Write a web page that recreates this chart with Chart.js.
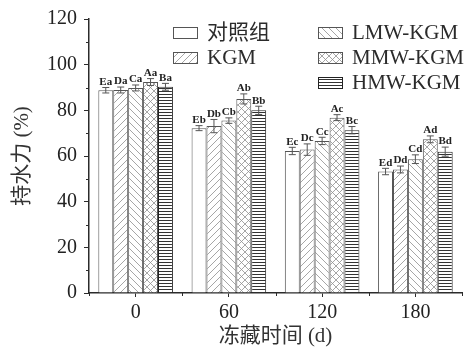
<!DOCTYPE html>
<html>
<head>
<meta charset="utf-8">
<script src="https://cdn.jsdelivr.net/npm/chart.js@4"></script>
<style>
  html, body { margin: 0; padding: 0; background: #fff; }
  #wrap { width: 470px; height: 349px; }
</style>
</head>
<body>
<div id="wrap"><canvas id="bar_chart" width="470" height="349"></canvas></div>
<script>
// storage time (d)
const categories = ["0", "60", "120", "180"];
const seriesNames = ["对照组", "KGM", "LMW-KGM", "MMW-KGM", "HMW-KGM"];

// water holding capacity (%)
const controlValues = [88.8, 72.2, 62.2, 53.2];
const kgmValues = [88.9, 73.1, 62.8, 54.1];
const lmwValues = [89.8, 75.5, 66.6, 58.6];
const mmwValues = [92.4, 85.0, 76.8, 67.3];
const hmwValues = [90.3, 80.0, 71.3, 61.9];

// error bars (+/-)
const controlErrors = [1.2, 1.1, 1.6, 1.4];
const kgmErrors = [1.3, 2.9, 2.5, 1.5];
const lmwErrors = [1.3, 1.2, 1.6, 1.9];
const mmwErrors = [1.5, 2.2, 1.3, 1.5];
const hmwErrors = [1.5, 1.8, 1.6, 2.0];

// significance letters
const controlLetters = ["Ea", "Eb", "Ec", "Ed"];
const kgmLetters = ["Da", "Db", "Dc", "Dd"];
const lmwLetters = ["Ca", "Cb", "Cc", "Cd"];
const mmwLetters = ["Aa", "Ab", "Ac", "Ad"];
const hmwLetters = ["Ba", "Bb", "Bc", "Bd"];

const yTicks = [0, 20, 40, 60, 80, 100, 120];

const serif = "'Liberation Serif', 'Noto Sans CJK SC', serif";
const axisColor = "#2b2b2b";

// hatch fills
function makePattern(kind) {
  const c = document.createElement("canvas");
  const s = kind === "h" ? 3 : 7;
  c.width = s;
  c.height = s;
  const g = c.getContext("2d");
  g.fillStyle = "#fff";
  g.fillRect(0, 0, s, s);
  g.lineWidth = 0.8;
  g.strokeStyle = "#8f8f8f";
  const fwd = () => {
    g.beginPath();
    g.moveTo(0, s); g.lineTo(s, 0);
    g.moveTo(-1, 1); g.lineTo(1, -1);
    g.moveTo(s - 1, s + 1); g.lineTo(s + 1, s - 1);
    g.stroke();
  };
  const back = () => {
    g.beginPath();
    g.moveTo(0, 0); g.lineTo(s, s);
    g.moveTo(-1, s - 1); g.lineTo(1, s + 1);
    g.moveTo(s - 1, -1); g.lineTo(s + 1, 1);
    g.stroke();
  };
  if (kind === "fwd") fwd();
  if (kind === "back") back();
  if (kind === "cross") { fwd(); back(); }
  if (kind === "h") {
    g.strokeStyle = "#333";
    g.lineWidth = 1;
    g.beginPath();
    g.moveTo(0, 1.5); g.lineTo(s, 1.5);
    g.stroke();
  }
  return g.createPattern(c, "repeat");
}

const fills = ["#ffffff", makePattern("fwd"), makePattern("back"), makePattern("cross"), makePattern("h")];
const values = [controlValues, kgmValues, lmwValues, mmwValues, hmwValues];
const errors = [controlErrors, kgmErrors, lmwErrors, mmwErrors, hmwErrors];
const letters = [controlLetters, kgmLetters, lmwLetters, mmwLetters, hmwLetters];

const datasets = seriesNames.map((name, i) => ({
  label: name,
  data: values[i],
  errors: errors[i],
  letters: letters[i],
  backgroundColor: fills[i],
  borderColor: i === 4 ? "#222" : "#555",
  borderWidth: 1,
  categoryPercentage: 0.8,
  barPercentage: 1.0,
}));

// error bars + letters on top of bars
const errorBars = {
  id: "errorBars",
  afterDatasetsDraw(chart) {
    const ctx = chart.ctx;
    const y = chart.scales.y;
    ctx.save();
    chart.data.datasets.forEach((ds, di) => {
      const meta = chart.getDatasetMeta(di);
      meta.data.forEach((bar, j) => {
        const v = ds.data[j];
        const e = ds.errors[j];
        const top = y.getPixelForValue(v + e);
        const bot = y.getPixelForValue(v - e);
        ctx.strokeStyle = "#555";
        ctx.lineWidth = 1;
        ctx.beginPath();
        ctx.moveTo(bar.x, top); ctx.lineTo(bar.x, bot);
        ctx.moveTo(bar.x - 3.5, top); ctx.lineTo(bar.x + 3.5, top);
        ctx.moveTo(bar.x - 3.5, bot); ctx.lineTo(bar.x + 3.5, bot);
        ctx.stroke();
        ctx.fillStyle = "#222";
        ctx.font = "bold 11px " + serif;
        ctx.textAlign = "center";
        ctx.textBaseline = "bottom";
        ctx.fillText(ds.letters[j], bar.x, top);
      });
    });
    ctx.restore();
  },
};

// minor ticks on both axes
const minorTicks = {
  id: "minorTicks",
  afterDraw(chart) {
    const ctx = chart.ctx;
    const { x, y } = chart.scales;
    ctx.save();
    ctx.strokeStyle = axisColor;
    ctx.lineWidth = 1;
    ctx.beginPath();
    for (let v = 10; v < 120; v += 20) {
      const py = Math.round(y.getPixelForValue(v)) + 0.5;
      ctx.moveTo(y.right - 3, py); ctx.lineTo(y.right, py);
    }
    const step = (x.right - x.left) / categories.length;
    for (let k = 0; k <= categories.length; k++) {
      const px = Math.round(x.left + k * step) + 0.5;
      ctx.moveTo(px, x.top); ctx.lineTo(px, x.top + 3);
    }
    ctx.stroke();
    ctx.restore();
  },
};

// two-column legend inside the plot
const hatchLegend = {
  id: "hatchLegend",
  afterDraw(chart) {
    const ctx = chart.ctx;
    const cols = [173, 318];
    const rows = [32, 57, 82];
    const slots = [[0, 0], [0, 1], [1, 0], [1, 1], [1, 2]];
    ctx.save();
    chart.data.datasets.forEach((ds, i) => {
      const bx = cols[slots[i][0]];
      const by = rows[slots[i][1]];
      ctx.fillStyle = ds.backgroundColor;
      ctx.fillRect(bx, by - 5, 24, 11);
      ctx.strokeStyle = ds.borderColor;
      ctx.lineWidth = 1;
      ctx.strokeRect(bx + 0.5, by - 4.5, 24, 11);
      ctx.fillStyle = "#2b2b2b";
      ctx.font = "21px " + serif;
      ctx.textAlign = "left";
      ctx.textBaseline = "middle";
      ctx.fillText(ds.label, bx + 34, by + 1);
    });
    ctx.restore();
  },
};

const ctx = document.getElementById("bar_chart").getContext("2d");

new Chart(ctx, {
  type: "bar",
  data: { labels: categories, datasets: datasets },
  plugins: [errorBars, minorTicks, hatchLegend],
  options: {
    responsive: false,
    animation: false,
    layout: { padding: { top: 18, right: 8, bottom: 0, left: 0 } },
    plugins: { legend: { display: false }, tooltip: { enabled: false } },
    scales: {
      x: {
        afterFit: (s) => { s.height = 56; },
        grid: { offset: false, drawOnChartArea: false, tickLength: 4, tickColor: axisColor },
        border: { color: axisColor, width: 1.5 },
        ticks: { color: "#222", font: { family: serif, size: 20 }, padding: 4 },
        title: {
          display: true,
          text: "冻藏时间 (d)",
          color: "#333",
          font: { family: serif, size: 21 },
          padding: 0,
        },
      },
      y: {
        min: 0,
        max: 120,
        afterFit: (s) => { s.width = 89; },
        afterBuildTicks: (s) => { s.ticks = yTicks.map((v) => ({ value: v })); },
        grid: { drawOnChartArea: false, tickLength: 5, tickColor: axisColor },
        border: { color: axisColor, width: 1.5 },
        ticks: { color: "#222", font: { family: serif, size: 20 }, padding: 7 },
        title: {
          display: true,
          text: "持水力 (%)",
          color: "#333",
          font: { family: serif, size: 21 },
          padding: { top: 10, bottom: 0 },
        },
      },
    },
  },
});
</script>
</body>
</html>
